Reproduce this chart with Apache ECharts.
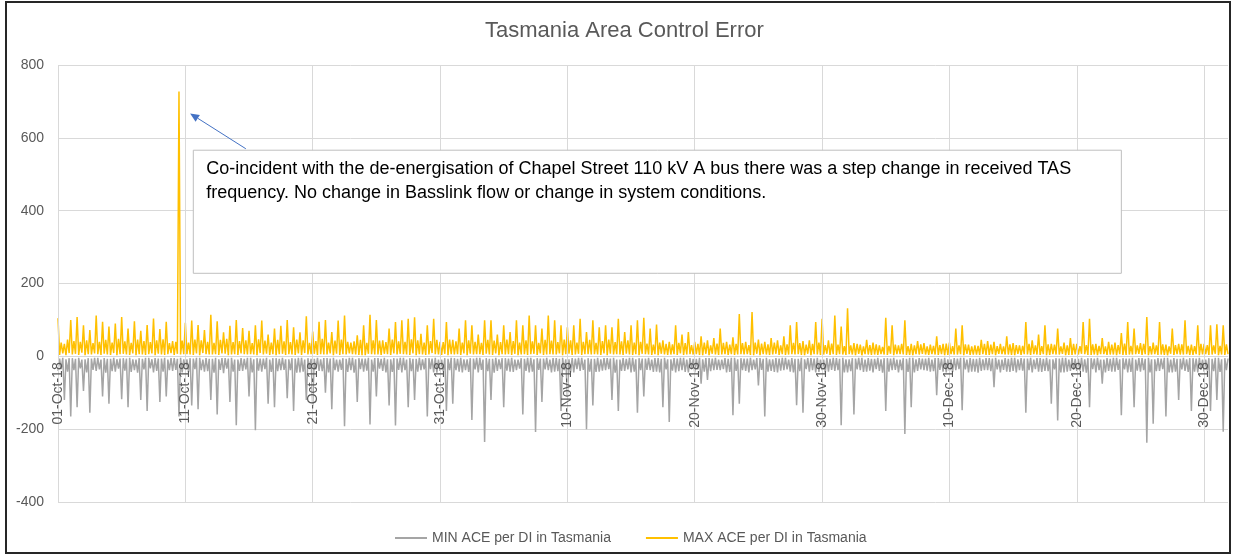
<!DOCTYPE html>
<html>
<head>
<meta charset="utf-8">
<script src="https://cdn.jsdelivr.net/npm/echarts@6.0.0/dist/echarts.min.js"></script>
<style>
html,body{margin:0;padding:0;background:#fff;}
#chart{width:1233px;height:556px;}
</style>
</head>
<body>
<div id="chart"></div>
<script>
// 3-hourly samples (8 per day), 01-Oct-18 .. 31-Dec-18
const startDate = '2018-10-01';
const samplesPerDay = 8;
const tickLabels = ['01-Oct-18','11-Oct-18','21-Oct-18','31-Oct-18','10-Nov-18','20-Nov-18','30-Nov-18','10-Dec-18','20-Dec-18','30-Dec-18'];

const maxOct = [
105,4,38,8,34,3,46,9, 100,5,42,7,108,4,40,10, 85,3,44,6,72,5,36,8, 112,6,40,4,95,7,45,5,
82,4,38,9,90,3,48,6, 108,7,41,5,76,4,37,8, 96,3,46,6,70,5,42,4, 86,6,39,8,104,3,44,7,
75,5,47,4,95,6,36,9, 42,4,40,7,727,5,43,6, 92,6,38,5,98,4,46,8, 86,3,44,9,72,6,40,5,
114,5,37,6,96,4,45,8, 66,7,48,3,84,5,39,6, 100,4,42,8,78,6,44,5, 70,6,36,5,85,3,47,9,
98,5,43,7,60,4,38,6, 76,3,45,6,84,7,41,4, 100,6,39,5,80,4,46,8, 66,4,44,9,110,5,37,6,
68,7,42,4,95,6,48,5, 100,5,38,8,67,3,43,7, 98,4,46,6,112,5,40,8, 38,6,41,5,58,4,45,3,
85,3,37,7,114,6,44,5, 100,5,43,4,44,7,39,6, 76,4,46,8,94,5,41,7, 99,6,40,5,103,4,47,8,
107,3,44,6,62,5,38,4, 85,5,42,9,103,6,45,5, 40,4,39,7,94,3,46,6];
const maxNov = [
45,5,41,6,76,4,38,8, 99,3,44,7,85,5,40,6, 60,6,37,4,99,7,45,5, 99,4,43,8,60,3,39,6,
85,5,46,6,67,4,42,7, 99,3,38,5,85,6,44,4, 112,6,41,7,85,4,37,8, 76,4,45,5,112,6,43,5,
99,5,39,8,85,3,46,6, 80,7,44,4,85,5,38,7, 103,4,40,6,67,6,45,5, 99,6,37,5,80,4,42,8,
85,3,46,7,80,5,39,6, 103,5,41,4,67,7,44,5, 85,4,38,6,99,3,40,7, 106,6,35,5,76,4,32,6,
87,3,38,7,44,5,34,4, 40,5,33,6,85,4,37,8, 60,4,36,5,67,6,31,5, 40,6,34,4,55,3,38,7,
44,3,30,7,50,5,35,4, 76,5,37,6,40,4,32,6, 52,4,34,5,116,6,36,5, 40,6,31,4,122,3,38,7,
46,3,35,6,40,5,33,4, 50,5,38,7,44,4,30,6, 55,4,33,5,85,6,37,5, 94,6,36,4,42,3,32,7,
44,3,34,6,94,5,38,4, 103,5,31,7,44,4,35,6];
const maxDec = [
112,4,32,6,82,5,28,4, 132,6,30,5,36,3,34,7, 32,3,27,6,45,5,31,4, 38,5,33,4,30,6,26,5,
106,4,29,7,85,3,32,6, 30,6,34,5,99,4,28,4, 34,3,30,6,42,5,33,7, 36,5,27,4,32,6,29,5,
55,4,31,6,34,3,35,4, 38,6,28,5,76,5,30,6, 85,3,33,7,32,4,27,5, 30,5,29,4,45,6,34,4,
42,4,32,6,40,3,28,7, 34,6,27,5,55,5,33,4, 36,3,31,7,30,4,29,6, 94,5,34,4,44,6,30,5,
60,4,28,6,85,3,33,4, 34,6,32,5,76,5,27,7, 38,3,30,4,50,4,34,5, 34,5,28,7,94,6,31,4,
103,4,33,5,34,3,29,6, 50,6,27,4,40,5,32,5, 38,3,31,6,64,4,35,4, 94,5,29,5,76,6,30,7,
36,4,34,6,108,3,28,5, 38,6,30,4,94,5,33,4, 32,3,27,7,76,4,31,6, 34,5,33,5,99,6,29,4,
32,4,28,6,85,3,34,5, 34,6,31,4,85,5,30,7, 88,3,29,5,85,4,33,6];

const minOct = [
-40,-6,-35,-4,-120,-8,-42,-5, -165,-5,-38,-7,-140,-4,-33,-9, -95,-8,-44,-5,-155,-6,-37,-4, -40,-4,-36,-9,-110,-5,-45,-7,
-130,-7,-41,-4,-42,-8,-34,-6, -118,-5,-39,-6,-140,-4,-43,-8, -38,-9,-45,-5,-120,-7,-36,-4, -150,-4,-33,-8,-44,-5,-40,-6,
-125,-6,-42,-4,-110,-9,-38,-5, -40,-5,-37,-7,-165,-4,-44,-8, -36,-8,-43,-5,-135,-6,-35,-4, -145,-4,-38,-9,-42,-5,-41,-7,
-120,-7,-45,-4,-160,-8,-37,-5, -46,-5,-34,-6,-125,-4,-42,-9, -189,-9,-40,-5,-40,-7,-36,-4, -110,-4,-44,-8,-203,-5,-39,-6,
-42,-6,-35,-4,-130,-9,-43,-5, -140,-5,-41,-7,-38,-4,-37,-8, -115,-8,-38,-5,-150,-6,-45,-4, -44,-4,-42,-9,-120,-5,-34,-7,
-135,-7,-36,-4,-40,-8,-41,-5, -100,-5,-44,-6,-145,-4,-38,-9, -42,-9,-37,-5,-192,-7,-43,-4, -38,-4,-45,-8,-125,-5,-35,-6,
-42,-6,-39,-4,-187,-9,-42,-5, -110,-5,-34,-7,-40,-4,-44,-8, -135,-8,-43,-5,-190,-6,-37,-4, -44,-4,-38,-9,-140,-5,-41,-7,
-120,-7,-42,-4,-38,-8,-36,-5, -165,-5,-35,-6,-44,-4,-45,-9, -40,-9,-41,-5,-150,-7,-38,-4];
const minNov = [
-130,-5,-38,-7,-42,-4,-44,-8, -38,-8,-43,-5,-175,-6,-36,-4, -44,-4,-37,-9,-235,-5,-41,-7, -120,-7,-45,-4,-40,-8,-35,-5,
-140,-5,-39,-6,-42,-4,-43,-9, -38,-9,-34,-5,-160,-7,-40,-4, -44,-4,-42,-8,-208,-5,-37,-6, -125,-6,-36,-4,-38,-9,-44,-5,
-42,-5,-41,-7,-150,-4,-38,-8, -110,-8,-44,-5,-44,-6,-35,-4, -40,-4,-37,-9,-200,-5,-42,-7, -135,-7,-43,-4,-42,-8,-39,-5,
-38,-5,-35,-6,-120,-4,-45,-9, -150,-9,-40,-5,-40,-7,-36,-4, -44,-4,-42,-8,-155,-5,-38,-6, -110,-6,-37,-4,-38,-9,-43,-5,
-42,-5,-44,-7,-140,-4,-36,-8, -180,-8,-39,-5,-44,-6,-41,-4, -38,-4,-43,-9,-44,-5,-35,-7, -44,-7,-36,-4,-75,-8,-42,-5,
-65,-5,-41,-6,-38,-4,-37,-9, -38,-9,-35,-5,-44,-7,-43,-4, -162,-4,-40,-8,-130,-5,-38,-6, -40,-6,-44,-4,-38,-9,-36,-5,
-80,-5,-37,-7,-165,-4,-42,-8, -40,-8,-43,-5,-44,-6,-39,-4, -38,-4,-36,-9,-42,-5,-44,-7, -134,-7,-41,-4,-155,-8,-35,-5,
-42,-5,-38,-6,-44,-4,-43,-9, -38,-9,-44,-5,-42,-7,-37,-4];
const minDec = [
-40,-5,-38,-7,-189,-4,-44,-8, -44,-8,-41,-5,-160,-6,-36,-4, -38,-4,-43,-9,-42,-5,-39,-7, -44,-7,-35,-4,-40,-8,-45,-5,
-150,-5,-42,-6,-38,-4,-37,-9, -44,-9,-38,-5,-213,-7,-43,-4, -140,-4,-44,-8,-40,-5,-36,-6, -38,-6,-39,-4,-42,-9,-41,-5,
-107,-5,-37,-7,-42,-4,-44,-8, -40,-8,-43,-5,-38,-6,-35,-4, -148,-4,-36,-9,-44,-5,-42,-7, -42,-7,-45,-4,-40,-8,-38,-5,
-38,-5,-41,-6,-85,-4,-36,-9, -44,-9,-37,-5,-42,-7,-43,-4, -40,-4,-44,-8,-38,-5,-39,-6, -155,-6,-38,-4,-44,-9,-35,-5,
-42,-5,-43,-7,-40,-4,-41,-8, -130,-8,-36,-5,-176,-6,-44,-4, -44,-4,-42,-9,-40,-5,-37,-7, -40,-7,-39,-4,-42,-8,-45,-5,
-140,-5,-35,-6,-44,-4,-38,-9, -75,-9,-44,-5,-40,-7,-42,-4, -42,-4,-37,-8,-162,-5,-36,-6, -44,-6,-43,-4,-140,-9,-39,-5,
-42,-5,-38,-7,-237,-4,-44,-8, -185,-8,-41,-5,-40,-6,-35,-4, -165,-4,-44,-9,-44,-5,-42,-7, -120,-7,-36,-4,-40,-8,-43,-5,
-150,-5,-42,-6,-44,-4,-37,-9, -42,-9,-39,-5,-150,-7,-41,-4, -120,-4,-43,-8,-207,-5,-38,-6];

const maxACE = maxOct.concat(maxNov, maxDec);
const minACE = minOct.concat(minNov, minDec);

const noteLines = [
  'Co-incident with the de-energisation of Chapel Street 110 kV A bus there was a step change in received TAS',
  'frequency. No change in Basslink flow or change in system conditions.'
];
// annotation anchors in data space: [sample index, ACE value]
const noteBoxFrom = [85.0, 566];
const noteBoxTo = [667.7, 228];
const arrowTail = [118.1, 570];
const arrowTip = [83.4, 667];

// category axis: one entry per sample
const months = ['Jan','Feb','Mar','Apr','May','Jun','Jul','Aug','Sep','Oct','Nov','Dec'];
const categories = [];
{
  const t0 = Date.parse(startDate + 'T00:00:00Z');
  for (let i = 0; i < maxACE.length; i++) {
    const d = new Date(t0 + i * 86400000 / samplesPerDay);
    const dd = String(d.getUTCDate()).padStart(2, '0');
    const yy = String(d.getUTCFullYear()).slice(2);
    const hh = String(d.getUTCHours()).padStart(2, '0');
    categories.push(dd + '-' + months[d.getUTCMonth()] + '-' + yy + ' ' + hh + ':00');
  }
}
const perTick = samplesPerDay * 10;

const FONT = 'Liberation Sans';
const GRID = {left: 58, right: 5, top: 65, bottom: 54};
const chart = echarts.init(document.getElementById('chart'), null, {renderer: 'canvas'});
const baseOption = {
  animation: false,
  backgroundColor: '#ffffff',
  title: {
    text: 'Tasmania Area Control Error',
    left: 485,
    top: 20,
    padding: 0,
    textStyle: {fontFamily: FONT, fontSize: 22, fontWeight: 'normal', color: '#595959'}
  },
  legend: {
    top: 531,
    left: 395,
    padding: 0,
    itemGap: 35,
    itemWidth: 32,
    itemHeight: 2,
    icon: 'rect',
    textStyle: {fontFamily: FONT, fontSize: 14, color: '#595959'},
    data: ['MIN ACE per DI in Tasmania', 'MAX ACE per DI in Tasmania']
  },
  grid: Object.assign({containLabel: false, outerBoundsMode: 'none'}, GRID),
  xAxis: {
    type: 'category',
    data: categories,
    boundaryGap: false,
    offset: 0,
    z: 5,
    axisLine: {show: false, onZero: false},
    axisTick: {show: false},
    axisLabel: {
      interval: perTick - 1,
      rotate: 90,
      margin: 6,
      fontFamily: FONT,
      fontSize: 14,
      color: '#595959',
      formatter: function (v, idx) { return tickLabels[Math.round(idx / perTick)] || v.split(' ')[0]; }
    },
    splitLine: {show: true, interval: perTick - 1, lineStyle: {color: '#d9d9d9', width: 1}}
  },
  yAxis: {
    type: 'value',
    min: -400,
    max: 800,
    interval: 200,
    axisLine: {show: false},
    axisTick: {show: false},
    axisLabel: {fontFamily: FONT, fontSize: 14, color: '#595959', margin: 14},
    splitLine: {lineStyle: {color: '#d9d9d9', width: 1}}
  },
  series: [
    {
      name: 'MIN ACE per DI in Tasmania',
      type: 'line',
      data: minACE,
      symbol: 'none',
      showSymbol: false,
      color: '#A5A5A5',
      lineStyle: {color: '#A5A5A5', width: 1.5},
      z: 2
    },
    {
      name: 'MAX ACE per DI in Tasmania',
      type: 'line',
      data: maxACE,
      symbol: 'none',
      showSymbol: false,
      color: '#FFC000',
      lineStyle: {color: '#FFC000', width: 1.5},
      z: 3
    }
  ]
};
chart.setOption(baseOption);

// move the category axis labels up to the zero line
const zeroY = chart.convertToPixel({yAxisIndex: 0}, 0);
const plotBottom = 556 - GRID.bottom;
chart.setOption({xAxis: {offset: zeroY - plotBottom}});

function px(p) { return chart.convertToPixel({gridIndex: 0}, p); }
const b0 = px(noteBoxFrom), b1 = px(noteBoxTo);
const tail = px(arrowTail), tip = px(arrowTip);
const ang = Math.atan2(tip[1] - tail[1], tip[0] - tail[0]);
const hl = 9, hw = 4;
const bx = tip[0] - hl * Math.cos(ang), by = tip[1] - hl * Math.sin(ang);
const headPts = [
  [tip[0], tip[1]],
  [bx + hw * Math.sin(ang), by - hw * Math.cos(ang)],
  [bx - hw * Math.sin(ang), by + hw * Math.cos(ang)]
];
chart.setOption({
  graphic: [
    {
      type: 'rect', z: 100,
      shape: {x: b0[0], y: b0[1], width: b1[0] - b0[0], height: b1[1] - b0[1]},
      style: {fill: '#ffffff', stroke: '#bfbfbf', lineWidth: 1}
    },
    {
      type: 'text', z: 101,
      x: b0[0] + 13, y: b0[1] + 7,
      style: {text: noteLines.join('\n'), fontFamily: FONT, fontSize: 18, lineHeight: 24, fill: '#000000'}
    },
    {
      type: 'line', z: 102,
      shape: {x1: tail[0], y1: tail[1], x2: bx, y2: by},
      style: {stroke: '#4472C4', lineWidth: 1}
    },
    {
      type: 'polygon', z: 102,
      shape: {points: headPts},
      style: {fill: '#4472C4'}
    },
    {
      type: 'rect', z: 103, silent: true,
      shape: {x: 6, y: 2, width: 1224, height: 551},
      style: {fill: null, stroke: '#262626', lineWidth: 2}
    }
  ]
});
</script>
</body>
</html>
